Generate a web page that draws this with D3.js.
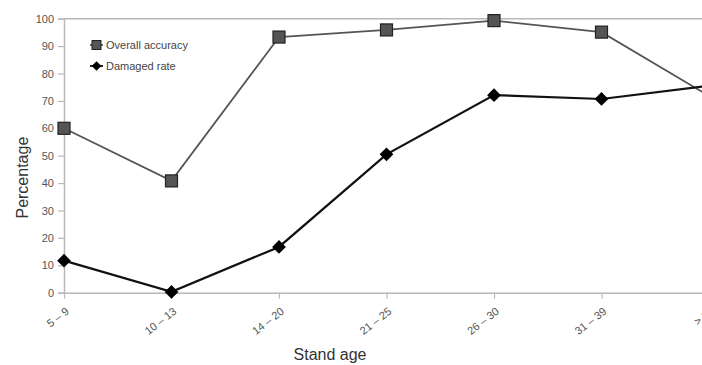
<!DOCTYPE html>
<html>
<head>
<meta charset="utf-8">
<script src="https://cdn.jsdelivr.net/npm/d3@7"></script>
<style>
  body { margin: 0; background: #fff; }
  text { font-family: "Liberation Sans", Arial, sans-serif; }
</style>
</head>
<body>
<div id="chart"></div>
<script>
// data
const ageGroups = ["5 – 9", "10 – 13", "14 – 20", "21 – 25", "26 – 30", "31 – 39", "> 39"];
const overallAccuracy = [60, 40.8, 93.3, 95.9, 99.3, 95.1, 71.8];
const damagedRate = [11.7, 0.3, 16.7, 50.5, 72.1, 70.7, 75.5];
const yTicks = [0, 10, 20, 30, 40, 50, 60, 70, 80, 90, 100];

const width = 702;
const height = 365;
const margin = { top: 18.7, left: 64, bottom: 72.3 };

const x = d3.scalePoint()
            .domain(ageGroups)
            .range([margin.left, 709])

const y = d3.scaleLinear()
            .domain([0, 100])
            .range([height - margin.bottom, margin.top])

const svg = d3.select("#chart")
              .append("svg")
              .attr("width", width)
              .attr("height", height)

// top border line at 100
svg.append("line")
    .attr("x1", margin.left).attr("x2", width)
    .attr("y1", y(100)).attr("y2", y(100))
    .attr("stroke", "#b8b8b8").attr("stroke-width", 1.5)

// y axis
const yAxis = svg.append("g")
    .attr("transform", `translate(${margin.left}, 0)`)
    .call(d3.axisLeft(y).tickValues(yTicks).tickSize(6).tickPadding(4))
yAxis.select(".domain").attr("stroke", "#b8b8b8").attr("stroke-width", 1.5)
yAxis.selectAll(".tick line").attr("stroke", "#b8b8b8").attr("stroke-width", 1.2)
yAxis.selectAll(".tick text").attr("fill", "#555").attr("font-size", 11)

// x axis
const xAxis = svg.append("g")
    .attr("transform", `translate(0, ${y(0)})`)
    .call(d3.axisBottom(x).tickSize(6).tickSizeOuter(0))
xAxis.select(".domain").attr("stroke", "#b8b8b8").attr("stroke-width", 1.5)
xAxis.selectAll(".tick line").attr("stroke", "#b8b8b8").attr("stroke-width", 1.2)
xAxis.selectAll(".tick text")
    .attr("fill", "#555")
    .attr("font-size", 11)
    .attr("text-anchor", "end")
    .attr("x", 0)
    .attr("y", 0)
    .attr("dy", "0.35em")
    .attr("transform", "translate(3, 17) rotate(-38)")

// axis titles
svg.append("text")
    .attr("x", 330).attr("y", 360)
    .attr("text-anchor", "middle")
    .attr("font-size", 16).attr("fill", "#333")
    .text("Stand age")

svg.append("text")
    .attr("transform", `translate(28, ${y(42)}) rotate(-90)`)
    .attr("text-anchor", "middle")
    .attr("font-size", 16).attr("fill", "#333")
    .text("Percentage")

const line = d3.line()
    .x((d, i) => x(ageGroups[i]))
    .y(d => y(d))

// overall accuracy
svg.append("path")
    .datum(overallAccuracy)
    .attr("d", line)
    .attr("fill", "none")
    .attr("stroke", "#555")
    .attr("stroke-width", 1.8)

svg.append("g")
    .selectAll("rect")
    .data(overallAccuracy)
    .join("rect")
        .attr("x", (d, i) => x(ageGroups[i]) - 6)
        .attr("y", d => y(d) - 6)
        .attr("width", 12)
        .attr("height", 12)
        .attr("fill", "#555")
        .attr("stroke", "#222")
        .attr("stroke-width", 1.2)

// damaged rate
svg.append("path")
    .datum(damagedRate)
    .attr("d", line)
    .attr("fill", "none")
    .attr("stroke", "#111")
    .attr("stroke-width", 2.2)

const diamond = d3.symbol().type(d3.symbolDiamond2).size(120)
svg.append("g")
    .selectAll("path")
    .data(damagedRate)
    .join("path")
        .attr("d", diamond)
        .attr("transform", (d, i) => `translate(${x(ageGroups[i])}, ${y(d)})`)
        .attr("fill", "#000")

// legend
const legend = svg.append("g")
const legendItems = ["Overall accuracy", "Damaged rate"]
legendItems.forEach((name, i) => {
    const ly = 45 + i * 21
    legend.append("line")
        .attr("x1", 90).attr("x2", 103)
        .attr("y1", ly).attr("y2", ly)
        .attr("stroke", i === 0 ? "#555" : "#111")
        .attr("stroke-width", 1.8)
    if (i === 0) {
        legend.append("rect")
            .attr("x", 92).attr("y", ly - 4.5)
            .attr("width", 9).attr("height", 9)
            .attr("fill", "#555").attr("stroke", "#222")
    } else {
        legend.append("path")
            .attr("d", d3.symbol().type(d3.symbolDiamond2).size(60))
            .attr("transform", `translate(96.5, ${ly})`)
            .attr("fill", "#000")
    }
    legend.append("text")
        .attr("x", 106).attr("y", ly)
        .attr("dy", "0.35em")
        .attr("font-size", 11).attr("fill", "#444")
        .text(name)
})
</script>
</body>
</html>
